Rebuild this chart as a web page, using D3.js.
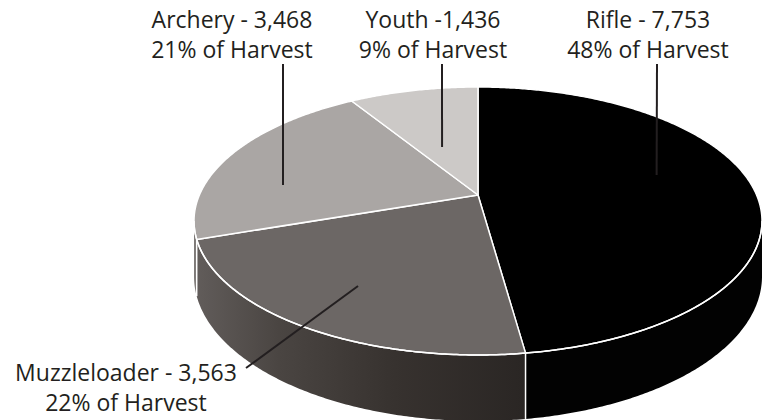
<!DOCTYPE html>
<html>
<head>
<meta charset="utf-8">
<script src="https://cdn.jsdelivr.net/npm/d3@7"></script>
<style>
  html, body { margin: 0; padding: 0; background: #fff; }
  svg { display: block; }
  .lbl { font-family: "Open Sans", "Noto Sans", sans-serif; font-size: 23px; fill: #231f20; }
</style>
</head>
<body>
<svg id="chart" width="770" height="420"></svg>
<script>
// Harvest by season type
const categories = ["Rifle", "Muzzleloader", "Archery", "Youth"];
const harvest = [7753, 3563, 3468, 1436];
const shareLabels = ["48%", "22%", "21%", "9%"];
const dashText = [" - ", " - ", " - ", " -"];

// Fills for the top faces and the visible side walls
const topColors = ["#000000", "#6c6765", "#aaa6a4", "#ccc9c7"];
const sideColors = ["#020202", "url(#muzzleSide)", "#7d7977", "#9c9997"];

// Perspective view of the disc
const view = { u0: 478, v0: 195, a: 278.6, b: 128.95, k: 0.194, depth: 53.2 };

// Label layout: text anchor, and where its leader line meets the slice (angle in degrees, radius fraction)
const labelLayout = [
  { x: 648, y: 28, leaderFrom: [657, 64], angle: 76.4, r: 0.68 },
  { x: 126, y: 381, leaderFrom: [246, 368], angle: 211.4, r: 0.727 },
  { x: 232, y: 28, leaderFrom: [283, 64], angle: 276.3, r: 0.715 },
  { x: 433, y: 28, leaderFrom: [442, 64], angle: 340.9, r: 0.425 }
];

const svg = d3.select("#chart");

function project(theta, r, z) {
  const X = r * Math.sin(theta), Y = r * Math.cos(theta);
  const w = 1 + view.k * Y;
  return [view.u0 + view.a * X / w, view.v0 + (-view.b * Y + z * view.depth) / w];
}

function arcPoints(a0, a1, z) {
  const n = Math.max(2, Math.ceil(Math.abs(a1 - a0) / (Math.PI / 360)));
  return d3.range(n + 1).map(i => project(a0 + (a1 - a0) * i / n, 1, z));
}

const defs = svg.append("defs");
const grad = defs.append("linearGradient")
  .attr("id", "muzzleSide")
  .attr("gradientUnits", "userSpaceOnUse")
  .attr("x1", 197).attr("y1", 0).attr("x2", 526).attr("y2", 0);
[[0, "#615c5a"], [0.25, "#4a4542"], [0.6, "#37322f"], [1, "#2a2624"]].forEach(([o, c]) =>
  grad.append("stop").attr("offset", o).attr("stop-color", c));

const pie = d3.pie().sort(null).startAngle(0).endAngle(2 * Math.PI);
const arcs = pie(harvest);
const line = d3.line();

// Side walls: only the front-facing range of the rim is visible
const visA = Math.acos(-view.k);
const visB = 2 * Math.PI - visA;

const walls = svg.append("g");
arcs.forEach((d, i) => {
  const s = Math.max(d.startAngle, visA), e = Math.min(d.endAngle, visB);
  if (e <= s) return;
  const pts = arcPoints(s, e, 0).concat(arcPoints(e, s, 1));
  walls.append("path").attr("d", line(pts) + "Z").attr("fill", sideColors[i]);
});

// White seams on the wall where slices meet
arcs.forEach(d => {
  const t = d.endAngle;
  if (t > visA && t < visB) {
    svg.append("path")
      .attr("d", line([project(t, 1, 0), project(t, 1, 1)]))
      .attr("stroke", "#fff").attr("stroke-width", 1.5);
  }
});

// Top faces
const tops = svg.append("g");
arcs.forEach((d, i) => {
  const pts = [project(0, 0, 0)].concat(arcPoints(d.startAngle, d.endAngle, 0));
  tops.append("path")
    .attr("d", line(pts) + "Z")
    .attr("fill", topColors[i])
    .attr("stroke", "#fff")
    .attr("stroke-width", 1.5)
    .attr("stroke-linejoin", "round");
});

// Rim highlight along the front edge of the top face
svg.append("path")
  .attr("d", line(arcPoints(visA, visB, 0)))
  .attr("fill", "none").attr("stroke", "#fff").attr("stroke-width", 1.5);

// Labels and leader lines
const fmt = d3.format(",");
categories.forEach((name, i) => {
  const L = labelLayout[i];
  const t = svg.append("text").attr("class", "lbl").attr("text-anchor", "middle");
  t.append("tspan").attr("x", L.x).attr("y", L.y).text(name + dashText[i] + fmt(harvest[i]));
  t.append("tspan").attr("x", L.x).attr("y", L.y + 30).text(shareLabels[i] + " of Harvest");
  const end = project(L.angle * Math.PI / 180, L.r, 0);
  svg.append("path")
    .attr("d", line([L.leaderFrom, end]))
    .attr("stroke", "#231f20").attr("stroke-width", 2).attr("fill", "none");
});
</script>
</body>
</html>
